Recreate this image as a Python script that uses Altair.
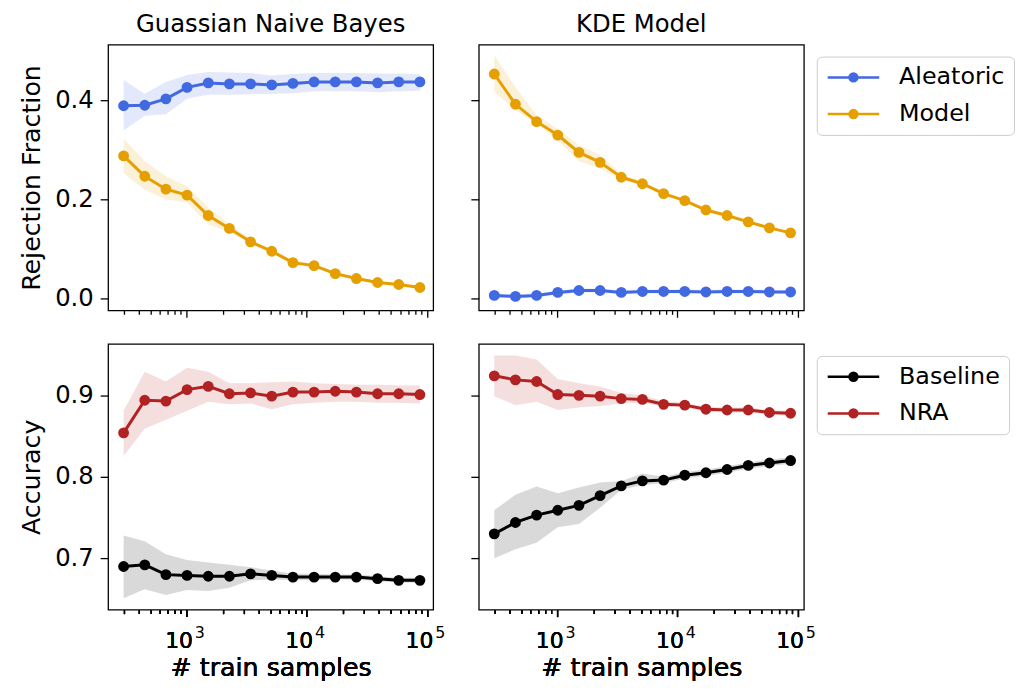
import altair as alt
import pandas as pd

# ---------------- data ----------------
n_train = [300, 450, 675, 1012, 1519, 2278, 3417, 5126, 7689, 11533, 17300, 25949, 38924, 58386, 87579]

gnb_alea_mean = [0.389, 0.390, 0.403, 0.426, 0.435, 0.433, 0.433, 0.431, 0.434, 0.437, 0.437, 0.437, 0.435, 0.437, 0.437]
gnb_alea_lo   = [0.339, 0.369, 0.372, 0.403, 0.411, 0.411, 0.412, 0.413, 0.414, 0.418, 0.418, 0.418, 0.416, 0.418, 0.419]
gnb_alea_hi   = [0.441, 0.413, 0.437, 0.451, 0.457, 0.456, 0.455, 0.450, 0.453, 0.455, 0.455, 0.455, 0.454, 0.454, 0.453]

gnb_model_mean = [0.288, 0.247, 0.221, 0.209, 0.168, 0.142, 0.115, 0.096, 0.073, 0.067, 0.051, 0.041, 0.033, 0.029, 0.023]
gnb_model_lo   = [0.253, 0.220, 0.200, 0.194, 0.150, 0.135, 0.110, 0.091, 0.069, 0.063, 0.048, 0.038, 0.031, 0.027, 0.021]
gnb_model_hi   = [0.323, 0.277, 0.247, 0.227, 0.184, 0.150, 0.120, 0.101, 0.078, 0.071, 0.055, 0.044, 0.036, 0.031, 0.025]

kde_alea_mean = [0.007, 0.005, 0.007, 0.013, 0.017, 0.017, 0.013, 0.015, 0.015, 0.015, 0.014, 0.015, 0.015, 0.014, 0.014]
kde_alea_lo   = [0.003, 0.002, 0.003, 0.009, 0.013, 0.013, 0.010, 0.011, 0.011, 0.011, 0.011, 0.011, 0.011, 0.011, 0.011]
kde_alea_hi   = [0.011, 0.009, 0.011, 0.017, 0.021, 0.021, 0.017, 0.019, 0.019, 0.019, 0.018, 0.019, 0.019, 0.018, 0.018]

kde_model_mean = [0.453, 0.392, 0.357, 0.330, 0.295, 0.275, 0.245, 0.232, 0.212, 0.198, 0.179, 0.168, 0.155, 0.143, 0.133]
kde_model_lo   = [0.417, 0.380, 0.353, 0.320, 0.277, 0.262, 0.240, 0.228, 0.209, 0.195, 0.177, 0.166, 0.153, 0.141, 0.131]
kde_model_hi   = [0.490, 0.427, 0.370, 0.343, 0.310, 0.290, 0.252, 0.236, 0.215, 0.201, 0.182, 0.170, 0.157, 0.145, 0.135]

gnb_nra_mean = [0.854, 0.894, 0.893, 0.907, 0.911, 0.902, 0.903, 0.899, 0.904, 0.904, 0.905, 0.904, 0.902, 0.902, 0.901]
gnb_nra_lo   = [0.826, 0.859, 0.870, 0.881, 0.892, 0.889, 0.890, 0.883, 0.889, 0.891, 0.892, 0.892, 0.891, 0.891, 0.890]
gnb_nra_hi   = [0.881, 0.929, 0.917, 0.934, 0.929, 0.915, 0.915, 0.916, 0.917, 0.915, 0.914, 0.913, 0.913, 0.912, 0.912]

gnb_base_mean = [0.690, 0.692, 0.680, 0.679, 0.678, 0.678, 0.681, 0.679, 0.677, 0.677, 0.677, 0.677, 0.675, 0.673, 0.673]
gnb_base_lo   = [0.651, 0.662, 0.655, 0.661, 0.660, 0.664, 0.673, 0.674, 0.673, 0.673, 0.674, 0.674, 0.672, 0.670, 0.670]
gnb_base_hi   = [0.728, 0.721, 0.705, 0.698, 0.695, 0.692, 0.689, 0.685, 0.681, 0.681, 0.680, 0.680, 0.678, 0.676, 0.676]

kde_nra_mean = [0.924, 0.919, 0.917, 0.901, 0.900, 0.899, 0.896, 0.895, 0.889, 0.888, 0.883, 0.882, 0.882, 0.879, 0.878]
kde_nra_lo   = [0.899, 0.888, 0.892, 0.882, 0.885, 0.887, 0.890, 0.891, 0.886, 0.885, 0.880, 0.879, 0.879, 0.876, 0.875]
kde_nra_hi   = [0.949, 0.949, 0.944, 0.920, 0.915, 0.911, 0.903, 0.900, 0.893, 0.891, 0.886, 0.885, 0.885, 0.882, 0.881]

kde_base_mean = [0.730, 0.744, 0.753, 0.759, 0.765, 0.777, 0.789, 0.795, 0.796, 0.802, 0.805, 0.809, 0.814, 0.817, 0.820]
kde_base_lo   = [0.700, 0.711, 0.719, 0.738, 0.742, 0.762, 0.784, 0.790, 0.792, 0.798, 0.801, 0.805, 0.810, 0.813, 0.816]
kde_base_hi   = [0.759, 0.778, 0.788, 0.780, 0.787, 0.793, 0.795, 0.804, 0.800, 0.806, 0.809, 0.813, 0.818, 0.821, 0.824]

panel_titles = ["Guassian Naive Bayes", "KDE Model"]
row_titles = ["Rejection Fraction", "Accuracy"]
x_title = "# train samples"
top_series = ["Aleatoric", "Model"]
bottom_series = ["Baseline", "NRA"]
top_colors = ["#4169E1", "#E69F00"]
bottom_colors = ["#000000", "#B22222"]
major_ticks = [1000, 10000, 100000]
minor_ticks = [300, 400, 500, 600, 700, 800, 900,
               2000, 3000, 4000, 5000, 6000, 7000, 8000, 9000,
               20000, 30000, 40000, 50000, 60000, 70000, 80000, 90000]
top_y_ticks = [0.0, 0.2, 0.4]
bottom_y_ticks = [0.7, 0.8, 0.9]

FONT = "DejaVu Sans"
W, H = 328, 268
MAJOR_TEST = "datum.value==1000||datum.value==10000||datum.value==100000"


def frame(series_list):
    rows = []
    for name, mean, lo, hi in series_list:
        for n, m, l, h in zip(n_train, mean, lo, hi):
            rows.append({"n": n, "series": name, "mean": m, "lo": l, "hi": h})
    return pd.DataFrame(rows)


symbol_path = "M-1,0H4.2M1.2,0A0.4,0.4,0,1,0,2.0,0A0.4,0.4,0,1,0,1.2,0Z"
XSCALE = alt.Scale(type="log", domain=[223, 113000], nice=False)


def panel(df, domain_names, colors, ydomain, yticks, show_xlab, show_ylab, ytitle, title, with_legend):
    xaxis = alt.Axis(
        values=major_ticks + minor_ticks,
        labels=show_xlab,
        labelExpr="datum.value==1000||datum.value==10000||datum.value==100000?'10':''",
        labelOffset=-8, labelFontSize=22,
        tickSize={"condition": {"test": MAJOR_TEST, "value": 7}, "value": 4},
        title=x_title if show_xlab else None,
        labelPadding=14,
        titlePadding=4,
        orient="bottom",
    )
    yaxis = alt.Axis(values=yticks, format=".1f", labels=show_ylab, labelFontSize=24.5,
                     title=ytitle if show_ylab else None, tickSize=8, labelPadding=7, titlePadding=10)
    x = alt.X("n:Q", scale=XSCALE, axis=xaxis)
    yscale = alt.Scale(domain=ydomain, nice=False, zero=False)
    if with_legend:
        legend = alt.Legend(
            title=None, orient="none", legendX=W + 13, legendY=12,
            symbolType=symbol_path, symbolSize=400, symbolStrokeWidth=2.5,
            labelFont=FONT, labelFontSize=24, labelColor="black", labelOffset=50,
            strokeColor="#cccccc", cornerRadius=5, padding=9, fillColor="white",
            rowPadding=13,
        )
    else:
        legend = None
    cscale = alt.Scale(domain=domain_names, range=colors)
    base = alt.Chart(df)
    areas = []
    for s, c in zip(domain_names, colors):
        areas.append(
            base.transform_filter(alt.datum.series == s).mark_area(color=c, fillOpacity=0.15, strokeWidth=0).encode(
                x=x,
                y=alt.Y("lo:Q", scale=yscale, axis=yaxis),
                y2="hi:Q",
            )
        )
    line = base.mark_line(strokeWidth=3).encode(
        x=x, y=alt.Y("mean:Q", scale=yscale, axis=yaxis),
        stroke=alt.Stroke("series:N", scale=cscale, legend=legend),
    )
    pts = base.mark_point(filled=True, size=80, opacity=1, shape="circle").encode(
        x=x, y=alt.Y("mean:Q", scale=yscale, axis=yaxis),
        fill=alt.Fill("series:N", scale=cscale, legend=legend),
        stroke=alt.Stroke("series:N", scale=cscale, legend=legend),
    )
    layers = areas + [line, pts]
    if show_xlab:
        sup_axis = alt.Axis(
            values=major_ticks, ticks=False, domain=False, grid=False,
            labelExpr="datum.value==1000?'3':datum.value==10000?'4':'5'",
            labelFontSize=16, labelOffset=13, labelPadding=15, title=None, orient="bottom",
        )
        sup = base.mark_point(opacity=0).encode(x=alt.X("n:Q", scale=XSCALE, axis=sup_axis))
        ch = alt.layer(*layers, sup).resolve_axis(x="independent")
    else:
        ch = alt.layer(*layers)
    ch = ch.properties(width=W, height=H)
    if title:
        ch = ch.properties(title=alt.TitleParams(title, font=FONT, fontSize=24.5, fontWeight="normal", offset=7))
    return ch


top_left = panel(frame([("Aleatoric", gnb_alea_mean, gnb_alea_lo, gnb_alea_hi),
                        ("Model", gnb_model_mean, gnb_model_lo, gnb_model_hi)]),
                 top_series, top_colors, [-0.023, 0.512], top_y_ticks, False, True, row_titles[0], panel_titles[0], False)
top_right = panel(frame([("Aleatoric", kde_alea_mean, kde_alea_lo, kde_alea_hi),
                         ("Model", kde_model_mean, kde_model_lo, kde_model_hi)]),
                  top_series, top_colors, [-0.023, 0.512], top_y_ticks, False, False, None, panel_titles[1], True)
bot_left = panel(frame([("Baseline", gnb_base_mean, gnb_base_lo, gnb_base_hi),
                        ("NRA", gnb_nra_mean, gnb_nra_lo, gnb_nra_hi)]),
                 bottom_series, bottom_colors, [0.637, 0.963], bottom_y_ticks, True, True, row_titles[1], None, False)
bot_right = panel(frame([("Baseline", kde_base_mean, kde_base_lo, kde_base_hi),
                         ("NRA", kde_nra_mean, kde_nra_lo, kde_nra_hi)]),
                  bottom_series, bottom_colors, [0.637, 0.963], bottom_y_ticks, True, False, None, None, True)

chart = alt.concat(top_left, top_right, bot_left, bot_right, columns=2,
                   spacing={"row": 24, "column": 23}).resolve_scale(
    color="independent", fill="independent", stroke="independent", y="independent"
).configure_view(stroke="black", strokeWidth=1.3).configure_axis(
    domain=False, grid=False, tickColor="black", tickWidth=1.3,
    labelFont=FONT, labelFontSize=23, labelColor="black",
    titleFont=FONT, titleFontSize=25.5, titleFontWeight="normal", titleColor="black",
).properties(padding={"left": 11, "top": 0, "right": 0, "bottom": 0}, background="white")

chart.save("out.html", embed_options={"renderer": "svg", "actions": False})
